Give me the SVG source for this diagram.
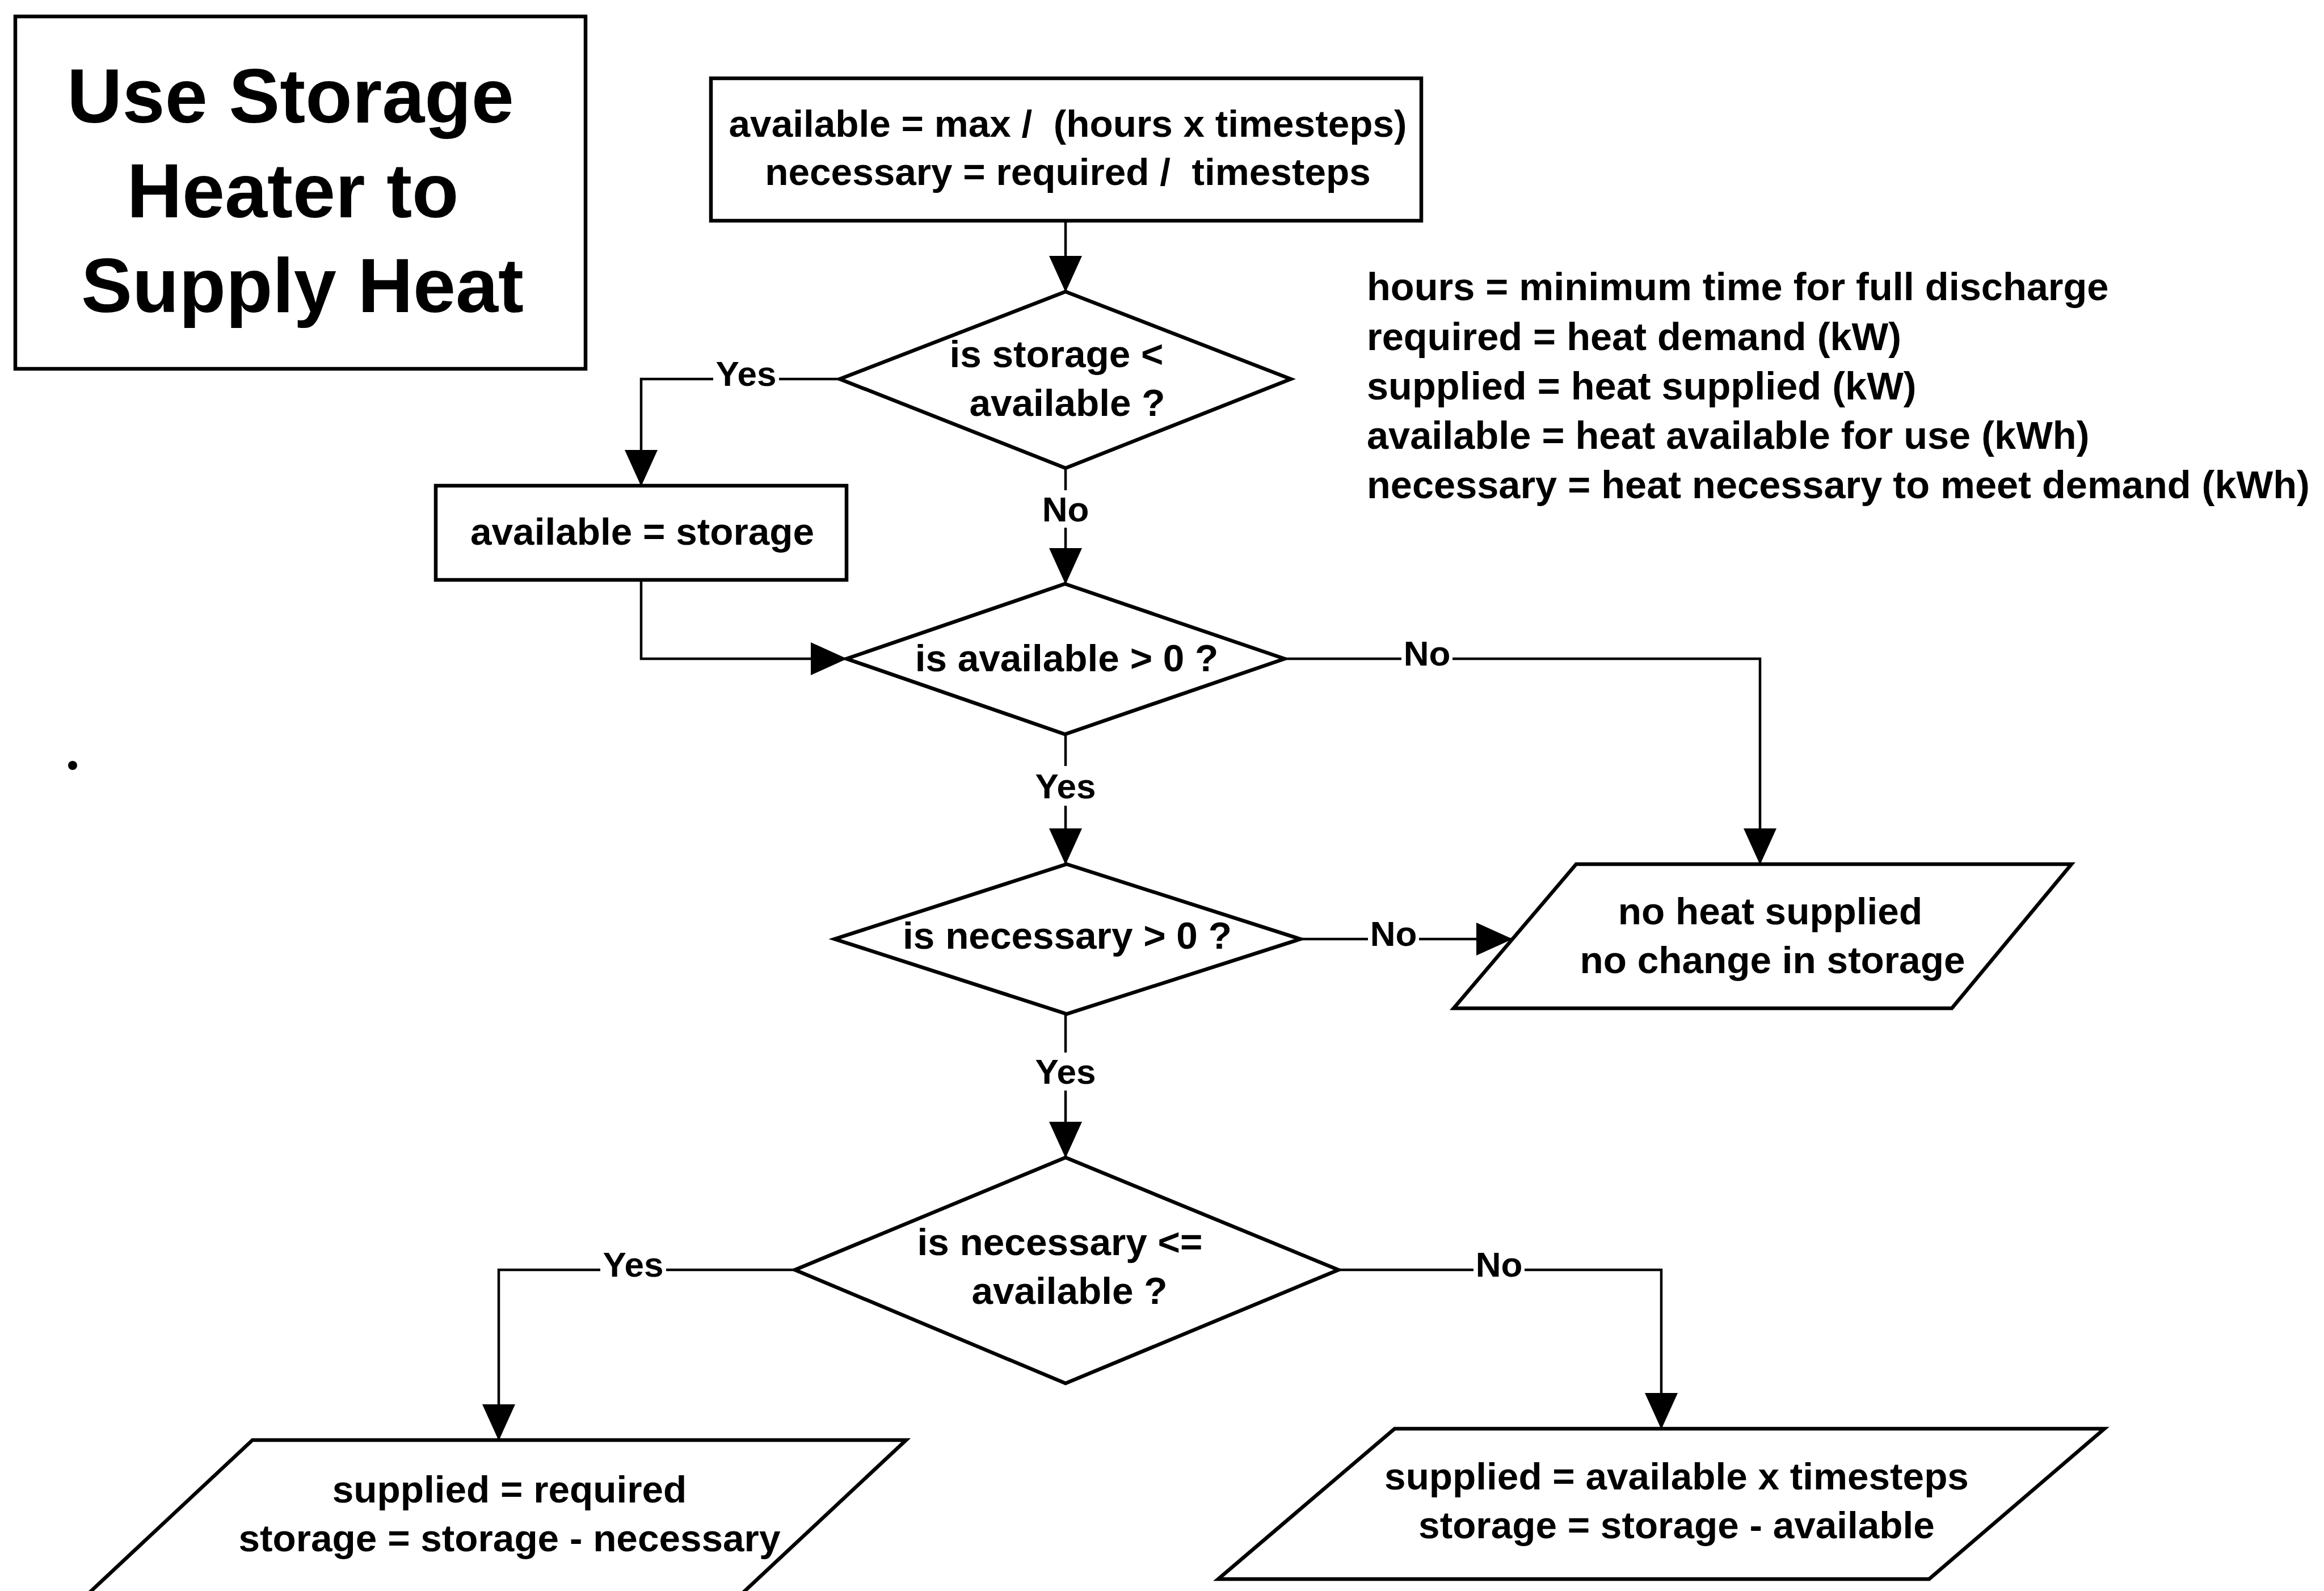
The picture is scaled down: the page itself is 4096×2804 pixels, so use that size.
<svg xmlns="http://www.w3.org/2000/svg" width="4096" height="2804" viewBox="0 0 4096 2804">
  <style>
    .shape { fill: #fff; stroke: #000; stroke-width: 6.5; stroke-linejoin: miter; }
    .wire { fill: none; stroke: #000; stroke-width: 4.5; }
    .t { font-family: "Liberation Sans", Arial, sans-serif; font-weight: bold; font-size: 67.5px; text-anchor: middle; fill: #000; white-space: pre; }
    .title { font-size: 135px; }
    .lbl { font-size: 62px; }
    .legend { text-anchor: start; font-size: 68.5px; }
  </style>
  <defs>
    <marker id="arrow" markerUnits="userSpaceOnUse" viewBox="0 0 64 58" markerWidth="64" markerHeight="58" refX="63" refY="29" orient="auto">
      <path d="M0,0 L64,29 L0,58 Z" fill="#000"/>
    </marker>
  </defs>

  <rect x="0" y="0" width="4096" height="2804" fill="#fff"/>

  <!-- heading -->
  <g id="title">
    <rect class="shape" x="27" y="29" width="1005" height="621"/>
    <text class="t title" x="512" y="216">Use Storage</text>
    <text class="t title" x="516" y="383">Heater to</text>
    <text class="t title" x="533" y="550">Supply Heat</text>
  </g>

  <!-- variable definitions -->
  <g id="legend">
    <text class="t legend" x="2409" y="529">hours = minimum time for full discharge</text>
    <text class="t legend" x="2409" y="617">required = heat demand (kW)</text>
    <text class="t legend" x="2409" y="704">supplied = heat supplied (kW)</text>
    <text class="t legend" x="2409" y="791">available = heat available for use (kWh)</text>
    <text class="t legend" x="2409" y="878">necessary = heat necessary to meet demand (kWh)</text>
  </g>

  <g id="speck">
    <circle cx="128" cy="1349" r="8" fill="#000"/>
  </g>

  <!-- connectors -->
  <g id="connectors" class="wire">
    <line x1="1878" y1="389" x2="1878" y2="514" marker-end="url(#arrow)"/>
    <!-- storage < available : Yes -->
    <polyline points="1480,668 1373,668"/>
    <polyline points="1257,668 1130,668 1130,856" marker-end="url(#arrow)"/>
    <!-- storage < available : No -->
    <line x1="1878" y1="825" x2="1878" y2="864"/>
    <line x1="1878" y1="930" x2="1878" y2="1029" marker-end="url(#arrow)"/>
    <!-- available = storage into next test -->
    <polyline points="1130,1022 1130,1161 1492,1161" marker-end="url(#arrow)"/>
    <!-- available > 0 : No -->
    <line x1="2264" y1="1161" x2="2470" y2="1161"/>
    <polyline points="2560,1161 3102,1161 3102,1523" marker-end="url(#arrow)"/>
    <!-- available > 0 : Yes -->
    <line x1="1878" y1="1294" x2="1878" y2="1350"/>
    <line x1="1878" y1="1420" x2="1878" y2="1523" marker-end="url(#arrow)"/>
    <!-- necessary > 0 : No -->
    <line x1="2292" y1="1655" x2="2411" y2="1655"/>
    <line x1="2501" y1="1655" x2="2665" y2="1655" marker-end="url(#arrow)"/>
    <!-- necessary > 0 : Yes -->
    <line x1="1878" y1="1787" x2="1878" y2="1855"/>
    <line x1="1878" y1="1922" x2="1878" y2="2040" marker-end="url(#arrow)"/>
    <!-- necessary <= available : Yes -->
    <line x1="1401" y1="2238" x2="1174" y2="2238"/>
    <polyline points="1058,2238 879,2238 879,2538" marker-end="url(#arrow)"/>
    <!-- necessary <= available : No -->
    <line x1="2359" y1="2238" x2="2597" y2="2238"/>
    <polyline points="2687,2238 2928,2238 2928,2518" marker-end="url(#arrow)"/>
  </g>

  <g id="connector-labels">
    <text class="t lbl" x="1315" y="680">Yes</text>
    <text class="t lbl" x="1878" y="919">No</text>
    <text class="t lbl" x="2515" y="1173">No</text>
    <text class="t lbl" x="1878" y="1407">Yes</text>
    <text class="t lbl" x="2456" y="1667">No</text>
    <text class="t lbl" x="1878" y="1910">Yes</text>
    <text class="t lbl" x="1116" y="2250">Yes</text>
    <text class="t lbl" x="2642" y="2250">No</text>
  </g>

  <!-- process: rates per timestep -->
  <g id="n-rates">
    <rect class="shape" x="1253" y="138" width="1252" height="251"/>
    <text class="t" x="1882" y="241" xml:space="preserve">available = max /  (hours x timesteps)</text>
    <text class="t" x="1882" y="326" xml:space="preserve">necessary = required /  timesteps</text>
  </g>

  <g id="d-storage-lt-available">
    <polygon class="shape" points="1878,514 2275,668 1878,825 1480,668"/>
    <text class="t" x="1862" y="647">is storage &lt;</text>
    <text class="t" x="1881" y="733">available ?</text>
  </g>

  <g id="n-available-storage">
    <rect class="shape" x="768" y="856" width="724" height="166"/>
    <text class="t" x="1132" y="960">available = storage</text>
  </g>

  <g id="d-available-gt-0">
    <polygon class="shape" points="1877,1029 2264,1161 1877,1294 1492,1161"/>
    <text class="t" x="1880" y="1183">is available &gt; 0 ?</text>
  </g>

  <g id="d-necessary-gt-0">
    <polygon class="shape" points="1880,1523 2292,1655 1880,1787 1471,1655"/>
    <text class="t" x="1881" y="1672">is necessary &gt; 0 ?</text>
  </g>

  <g id="o-no-heat">
    <polygon class="shape" points="2778,1523 3651,1523 3440,1777 2562,1777"/>
    <text class="t" x="3120" y="1629">no heat supplied</text>
    <text class="t" x="3124" y="1715">no change in storage</text>
  </g>

  <g id="d-necessary-le-available">
    <polygon class="shape" points="1878,2040 2359,2238 1878,2438 1401,2238"/>
    <text class="t" x="1868" y="2212">is necessary &lt;=</text>
    <text class="t" x="1885" y="2298">available ?</text>
  </g>

  <g id="o-supply-required">
    <polygon class="shape" points="445,2538 1597,2538 1210,2900 58,2900"/>
    <text class="t" x="898" y="2648">supplied = required</text>
    <text class="t" x="898" y="2734">storage = storage - necessary</text>
  </g>

  <g id="o-supply-available">
    <polygon class="shape" points="2458,2518 3709,2518 3400,2783 2147,2783"/>
    <text class="t" x="2955" y="2625">supplied = available x timesteps</text>
    <text class="t" x="2955" y="2711">storage = storage - available</text>
  </g>
</svg>
